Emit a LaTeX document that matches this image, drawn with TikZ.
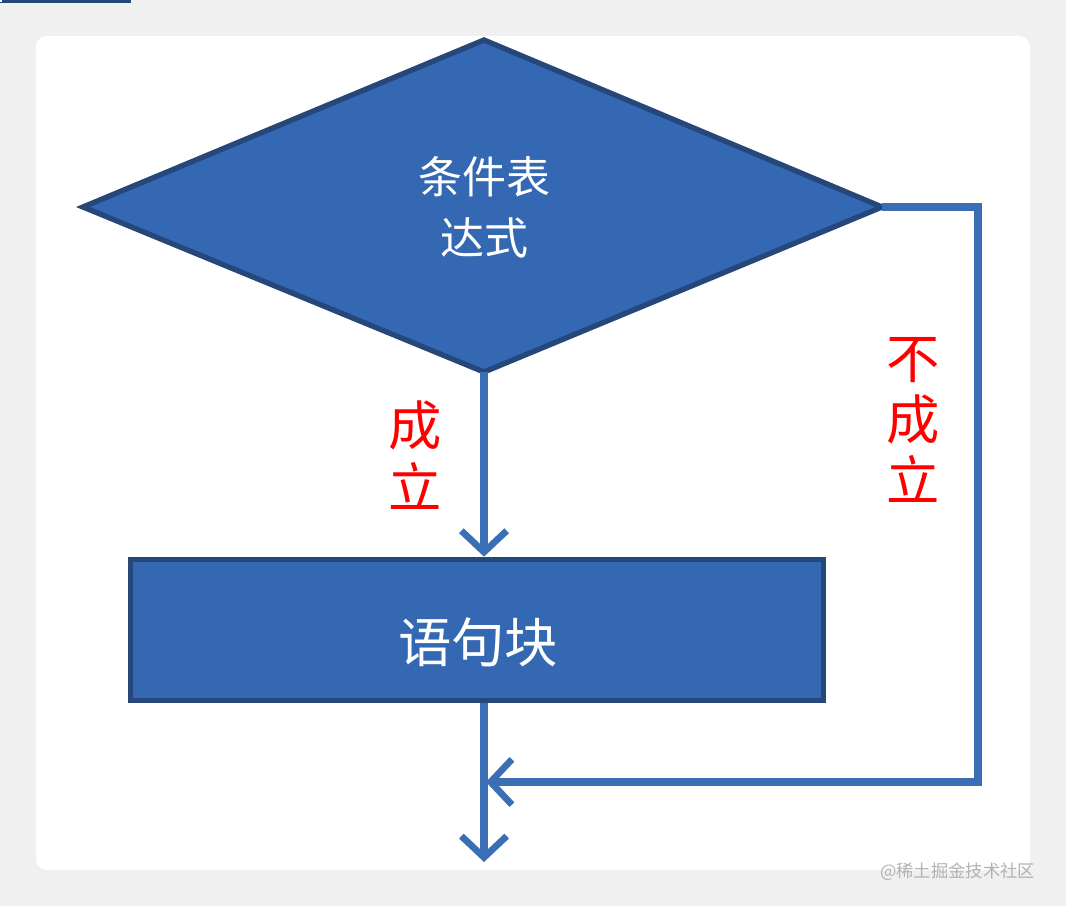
\documentclass[tikz,border=0pt]{standalone}
\usepackage{fontspec}
\newfontfamily\cjk{Noto Sans CJK SC}
\usetikzlibrary{arrows.meta}
\definecolor{bfill}{HTML}{3468B3}
\definecolor{bdark}{HTML}{25477A}
\definecolor{bline}{HTML}{3A6FB6}
\tikzset{
  flow/.style={draw=bline, line width=6pt, -{Straight Barb[length=16pt,width=34pt,line width=5pt]}},
  wtext/.style={text=white, font=\cjk, align=center},
  rtext/.style={text=red, font=\cjk\fontsize{40}{46}\selectfont, align=center}
}
\begin{document}
\begin{tikzpicture}[x=0.75pt,y=-0.75pt]
\useasboundingbox (0,0) rectangle (1066,906);
\fill[gray!12] (0,0) rectangle (1066,906);
\fill[white, rounded corners=8pt] (36,36) rectangle (1030,870);
\node[draw=bdark, fill=bfill, line width=4pt, minimum width=1.6*128pt*0.75/0.75*0.94, inner sep=0pt] at (0,0) {};
\fill[white] (-2,-2) rectangle (2,2);
\path[draw=bdark, fill=bfill, line width=4pt] (83,207) coordinate (dl) -- (484,40) -- (882,207) coordinate (dr) -- (484,372) coordinate (db) -- cycle;
\node[wtext, font=\cjk\fontsize{33}{46}\selectfont] (cond) at (484,207) {条件表\\达式};
\node[draw=bdark, fill=bfill, line width=4pt, minimum width=520pt, minimum height=106pt, inner sep=0pt] (blk) at (477,630) {};
\node[wtext, font=\cjk\fontsize{40}{46}\selectfont] at (478,642) {语句块};
\coordinate (e1) at (484,862);
\coordinate (c1) at (978,207);
\coordinate (c2) at (978,782);
\coordinate (j) at (486,782);
\draw[flow] (db) -- (blk.north -| db);
\draw[flow] (blk.south -| db) -- (e1);
\draw[flow] (dr) -- (c1) -- (c2) -- (j);
\node[rtext] (yes) at (415,455) {成\\立};
\node[rtext] (no) at (913,420) {不\\成\\立};
\node[text=gray!60, font=\cjk\fontsize{13}{15}\selectfont, anchor=east] (wm) at (1040,872) {@稀土掘金技术社区};
\end{tikzpicture}
\end{document}
